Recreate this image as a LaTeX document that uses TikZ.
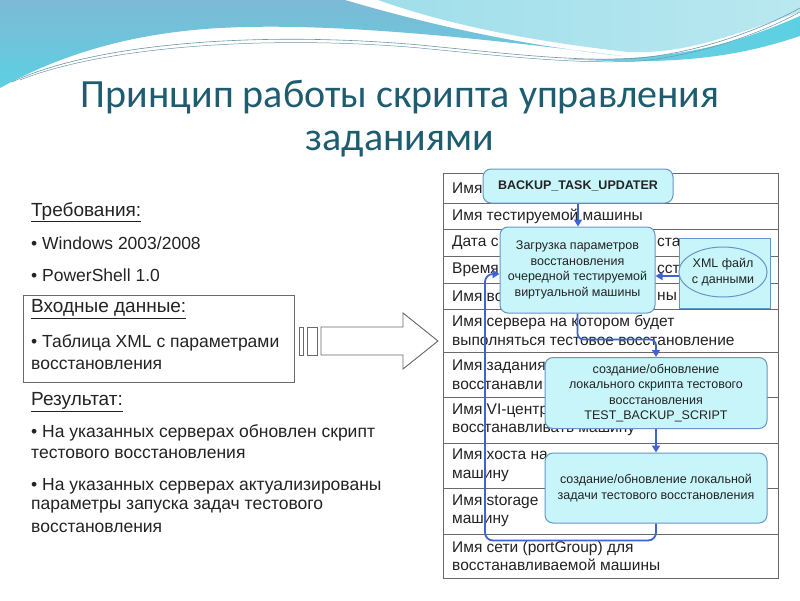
\documentclass[tikz,border=0pt]{standalone}
\usepackage{fontspec}
\setmainfont{Liberation Sans}
\newfontfamily\titlefont{Carlito}
\usetikzlibrary{shapes.geometric,arrows.meta,calc}
\definecolor{boxfill}{RGB}{200,245,250}
\definecolor{boxedge}{RGB}{100,150,200}
\definecolor{flowblue}{RGB}{60,100,215}
\definecolor{titlecol}{RGB}{30,92,112}
\definecolor{bodytext}{RGB}{35,35,35}
\definecolor{gridcol}{RGB}{105,105,105}
\definecolor{waveA}{RGB}{125,186,214}
\definecolor{waveB}{RGB}{92,208,226}
\definecolor{waveC}{RGB}{160,222,234}
\definecolor{waveD}{RGB}{185,232,240}
\definecolor{waveE}{RGB}{110,205,225}
\definecolor{thinline}{RGB}{110,150,170}
\begin{document}
\begin{tikzpicture}[x=1pt,y=-1pt,
  procbox/.style={draw=boxedge, fill=boxfill, rounded corners=8pt, line width=1pt,
    align=center, inner sep=0pt, text=bodytext, font=\fontsize{12.5}{15.5}\selectfont},
  flow/.style={draw=flowblue, line width=1.8pt, -{Triangle[length=7pt,width=8pt]}},
  bodyline/.style={anchor=west, inner sep=0pt, text=bodytext, font=\fontsize{17.5}{21}\selectfont},
  headline/.style={anchor=west, inner sep=0pt, text=bodytext, font=\fontsize{19}{22}\selectfont},
  celltext/.style={anchor=west, inner sep=0pt, align=left, text=bodytext, font=\fontsize{15.5}{18.5}\selectfont},
  titletext/.style={anchor=base, inner sep=0pt, text=titlecol, font=\titlefont\fontsize{40}{44}\selectfont},
  outline/.style={draw=gridcol, line width=0.9pt}
]
\useasboundingbox (0,0) rectangle (800,600);
\fill[white] (0,0) rectangle (800,600);

% ---- wave decoration ----
\shade[top color=waveA, bottom color=waveB]
  (0,0) -- (345,0) .. controls (430,25) and (520,45) .. (622,56)
  .. controls (480,38) and (330,22) .. (220,28)
  .. controls (130,33) and (60,55) .. (0,88) -- cycle;
\shade[left color=waveC, right color=waveD]
  (378,0) -- (800,0) -- (800,12) .. controls (720,40) and (680,54) .. (628,52)
  .. controls (520,40) and (440,22) .. (378,0) -- cycle;
\shade[left color=waveE, right color=waveB]
  (565,59) .. controls (680,62) and (740,42) .. (800,16) -- (800,36)
  .. controls (740,56) and (680,66) .. (565,59) -- cycle;
\draw[thinline, line width=0.6pt] (12,82) .. controls (90,45) and (250,30) .. (420,45)
  .. controls (520,55) and (580,62) .. (640,58) .. controls (700,52) and (760,30) .. (800,8);
\draw[thinline, line width=0.5pt] (20,80) .. controls (100,48) and (260,34) .. (420,48)
  .. controls (520,58) and (580,64) .. (640,61) .. controls (700,55) and (760,34) .. (800,12);

% ---- title ----
\node[titletext] (title1) at (400,107) {Принцип работы скрипта управления};
\node[titletext] (title2) at (400,150) {заданиями};

% ---- left column ----
\node[headline] (req) at (31,212) {\underline{Требования:}};
\node[bodyline] (req1) at (31,243) {• Windows 2003/2008};
\node[bodyline] (req2) at (31,275) {• PowerShell 1.0};
\draw[outline] (23,295) rectangle (294,382);
\node[headline] (inp) at (31,309) {\underline{Входные данные:}};
\node[bodyline] (inp1) at (31,343) {• Таблица XML с параметрами};
\node[bodyline] (inp2) at (31,365) {восстановления};
\node[headline] (res) at (31,402) {\underline{Результат:}};
\node[bodyline] (res1) at (31,433) {• На указанных серверах обновлен скрипт};
\node[bodyline] (res2) at (31,454) {тестового восстановления};
\node[bodyline] (res3) at (31,486) {• На указанных серверах актуализированы};
\node[bodyline] (res4) at (31,507) {параметры запуска задач тестового};
\node[bodyline] (res5) at (31,528) {восстановления};

% ---- block arrow ----
\draw[draw=gridcol, fill=white, line width=0.9pt] (299,327) rectangle (303,355);
\draw[draw=gridcol, fill=white, line width=0.9pt] (307,327) rectangle (317,355);
\draw[draw=gridcol, fill=white, line width=0.9pt, line join=miter]
  (321,327) -- (403,327) -- (403,313) -- (438,341) -- (403,369) -- (403,355) -- (321,355) -- cycle;

% ---- table ----
\draw[outline] (443,173) rectangle (778,578);
\foreach \yy in {203,229,256,283,309,352,397,443,488,534}
  \draw[outline] (443,\yy) -- (778,\yy);
\node[celltext] (r1) at (452,188) {Имя};
\node[celltext] (r2) at (452,216) {Имя тестируемой машины};
\node[celltext] (r3a) at (452,242.5) {Дата с};
\node[celltext] (r3b) at (657,242.5) {ста};
\node[celltext] (r4a) at (452,269.5) {Время};
\node[celltext] (r4b) at (657,269.5) {сст};
\node[celltext] (r5a) at (452,296) {Имя во};
\node[celltext] (r5b) at (657,296) {ны};
\node[celltext] (r6) at (452,330.5) {Имя сервера на котором будет\\выполняться тестовое восстановление};
\node[celltext] (r7) at (452,374.5) {Имя задания\\восстанавли};
\node[celltext] (r8) at (452,420) {Имя VI-центр\\восстанавливать машину};
\node[celltext] (r9) at (452,465.5) {Имя хоста на\\машину};
\node[celltext] (r10) at (452,511) {Имя storage\\машину};
\node[celltext] (r11) at (452,556) {Имя сети (portGroup) для\\восстанавливаемой машины};

% ---- process boxes ----
\node[procbox, minimum width=190pt, minimum height=34pt, font=\bfseries\fontsize{12.5}{15}\selectfont]
  (bk) at (578,186) {BACKUP\_TASK\_UPDATER};
\node[procbox, minimum width=155pt, minimum height=86pt] (b2) at (577.5,270)
  {Загрузка параметров\\восстановления\\очередной тестируемой\\виртуальной машины};
\node[draw=boxedge, fill=boxfill, line width=1pt, minimum width=91pt, minimum height=70pt, inner sep=0pt]
  (xmlbox) at (724.5,273) {};
\node[ellipse, draw=boxedge, fill=boxfill, line width=1pt, minimum width=80pt, minimum height=50pt,
  inner sep=0pt, align=center, text=bodytext, font=\fontsize{12.5}{15.5}\selectfont]
  (xml) at (723,272) {XML файл\\с данными};
\node[procbox, minimum width=222pt, minimum height=71pt] (b3) at (656,393)
  {создание/обновление\\локального скрипта тестового\\восстановления\\TEST\_BACKUP\_SCRIPT};
\node[procbox, minimum width=222pt, minimum height=70pt] (b4) at (656,488)
  {создание/обновление локальной\\задачи тестового восстановления};

% ---- connectors ----
\coordinate (lp) at (485,274);
\draw[flow] (bk.south) -- (bk.south |- b2.north);
\draw[flow] (xmlbox.west |- 0,276) -- (b2.east |- 0,276);
\draw[flow, rounded corners=6pt] (b2.south) -- ++(0,26) -| (b3.north);
\draw[flow] (b3.south) -- (b4.north);
\draw[flow, rounded corners=8pt] (b4.south) -- ++(0,17) -| (lp) -- (b2.west |- lp);
\end{tikzpicture}
\end{document}
